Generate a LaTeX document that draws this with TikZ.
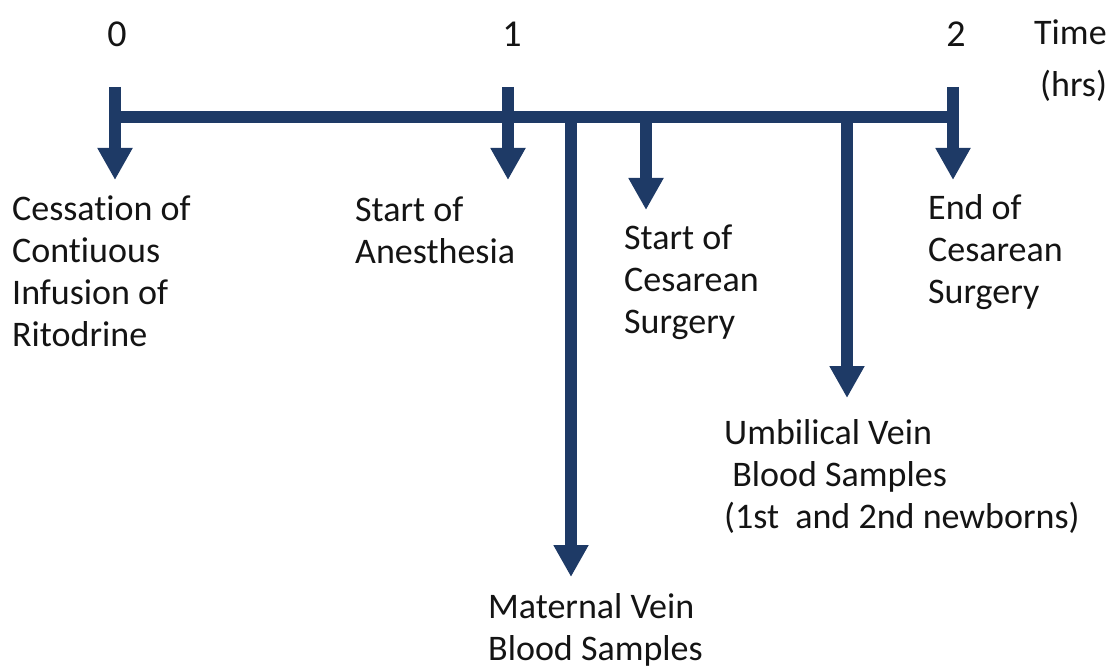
\documentclass[tikz,border=0pt]{standalone}
\usepackage{fontspec}
\setmainfont[Ligatures=NoCommon]{Carlito}
\usetikzlibrary{arrows.meta}
\definecolor{navy}{RGB}{30,58,102}
\definecolor{ink}{RGB}{20,20,20}
\begin{document}
\begin{tikzpicture}[x=1pt,y=-1pt,
  bar/.style={line width=12pt, draw=navy},
  arr/.style={line width=12pt, draw=navy, -{Triangle[width=33pt,length=32pt,fill=navy]}},
  lbl/.style={anchor=base west, align=left, inner sep=0pt, text=ink, font=\fontsize{36}{41.7}\selectfont},
  tick/.style={anchor=base, inner sep=0pt, text=ink, font=\fontsize{38}{44}\selectfont}]
\useasboundingbox (0,0) rectangle (1118,671);
% timeline
\coordinate (barL) at (109,117.5);
\coordinate (barR) at (959,117.5);
\draw[bar] (barL) -- (barR);
% time marks
\coordinate (a0s) at (115,87);  \coordinate (a0e) at (115,180);
\coordinate (a1s) at (508,87);  \coordinate (a1e) at (508,180);
\coordinate (a2s) at (953,87);  \coordinate (a2e) at (953,180);
\coordinate (ms) at (571,114);  \coordinate (me) at (571,577);
\coordinate (cs) at (646,114);  \coordinate (ce) at (646,210);
\coordinate (us) at (847,114);  \coordinate (ue) at (847,398);
\draw[arr] (a0s) -- (a0e);
\draw[arr] (a1s) -- (a1e);
\draw[arr] (a2s) -- (a2e);
\draw[arr] (ms) -- (me);
\draw[arr] (cs) -- (ce);
\draw[arr] (us) -- (ue);
% tick numbers
\node[tick] (n0) at (117,47) {0};
\node[tick] (n1) at (512,47) {1};
\node[tick] (n2) at (956,47) {2};
\node[lbl] (time) at (1034,45) {Time};
\node[lbl] (hrs) at (1040,97) {(hrs)};
% labels (anchor = baseline of the last line)
\node[lbl] (cess) at (12,346) {Cessation of\\Contiuous\\Infusion of\\Ritodrine};
\node[lbl] (anes) at (355,263) {Start of\\Anesthesia};
\node[lbl] (cesar) at (624,333) {Start of\\Cesarean\\Surgery};
\node[lbl] (endc) at (928,303) {End of\\Cesarean\\Surgery};
\node[lbl] (umb) at (724,528) {Umbilical Vein\\\ Blood Samples\\(1st\ \ and 2nd newborns)};
\node[lbl] (mat) at (488,660) {Maternal Vein\\Blood Samples};
\end{tikzpicture}
\end{document}
